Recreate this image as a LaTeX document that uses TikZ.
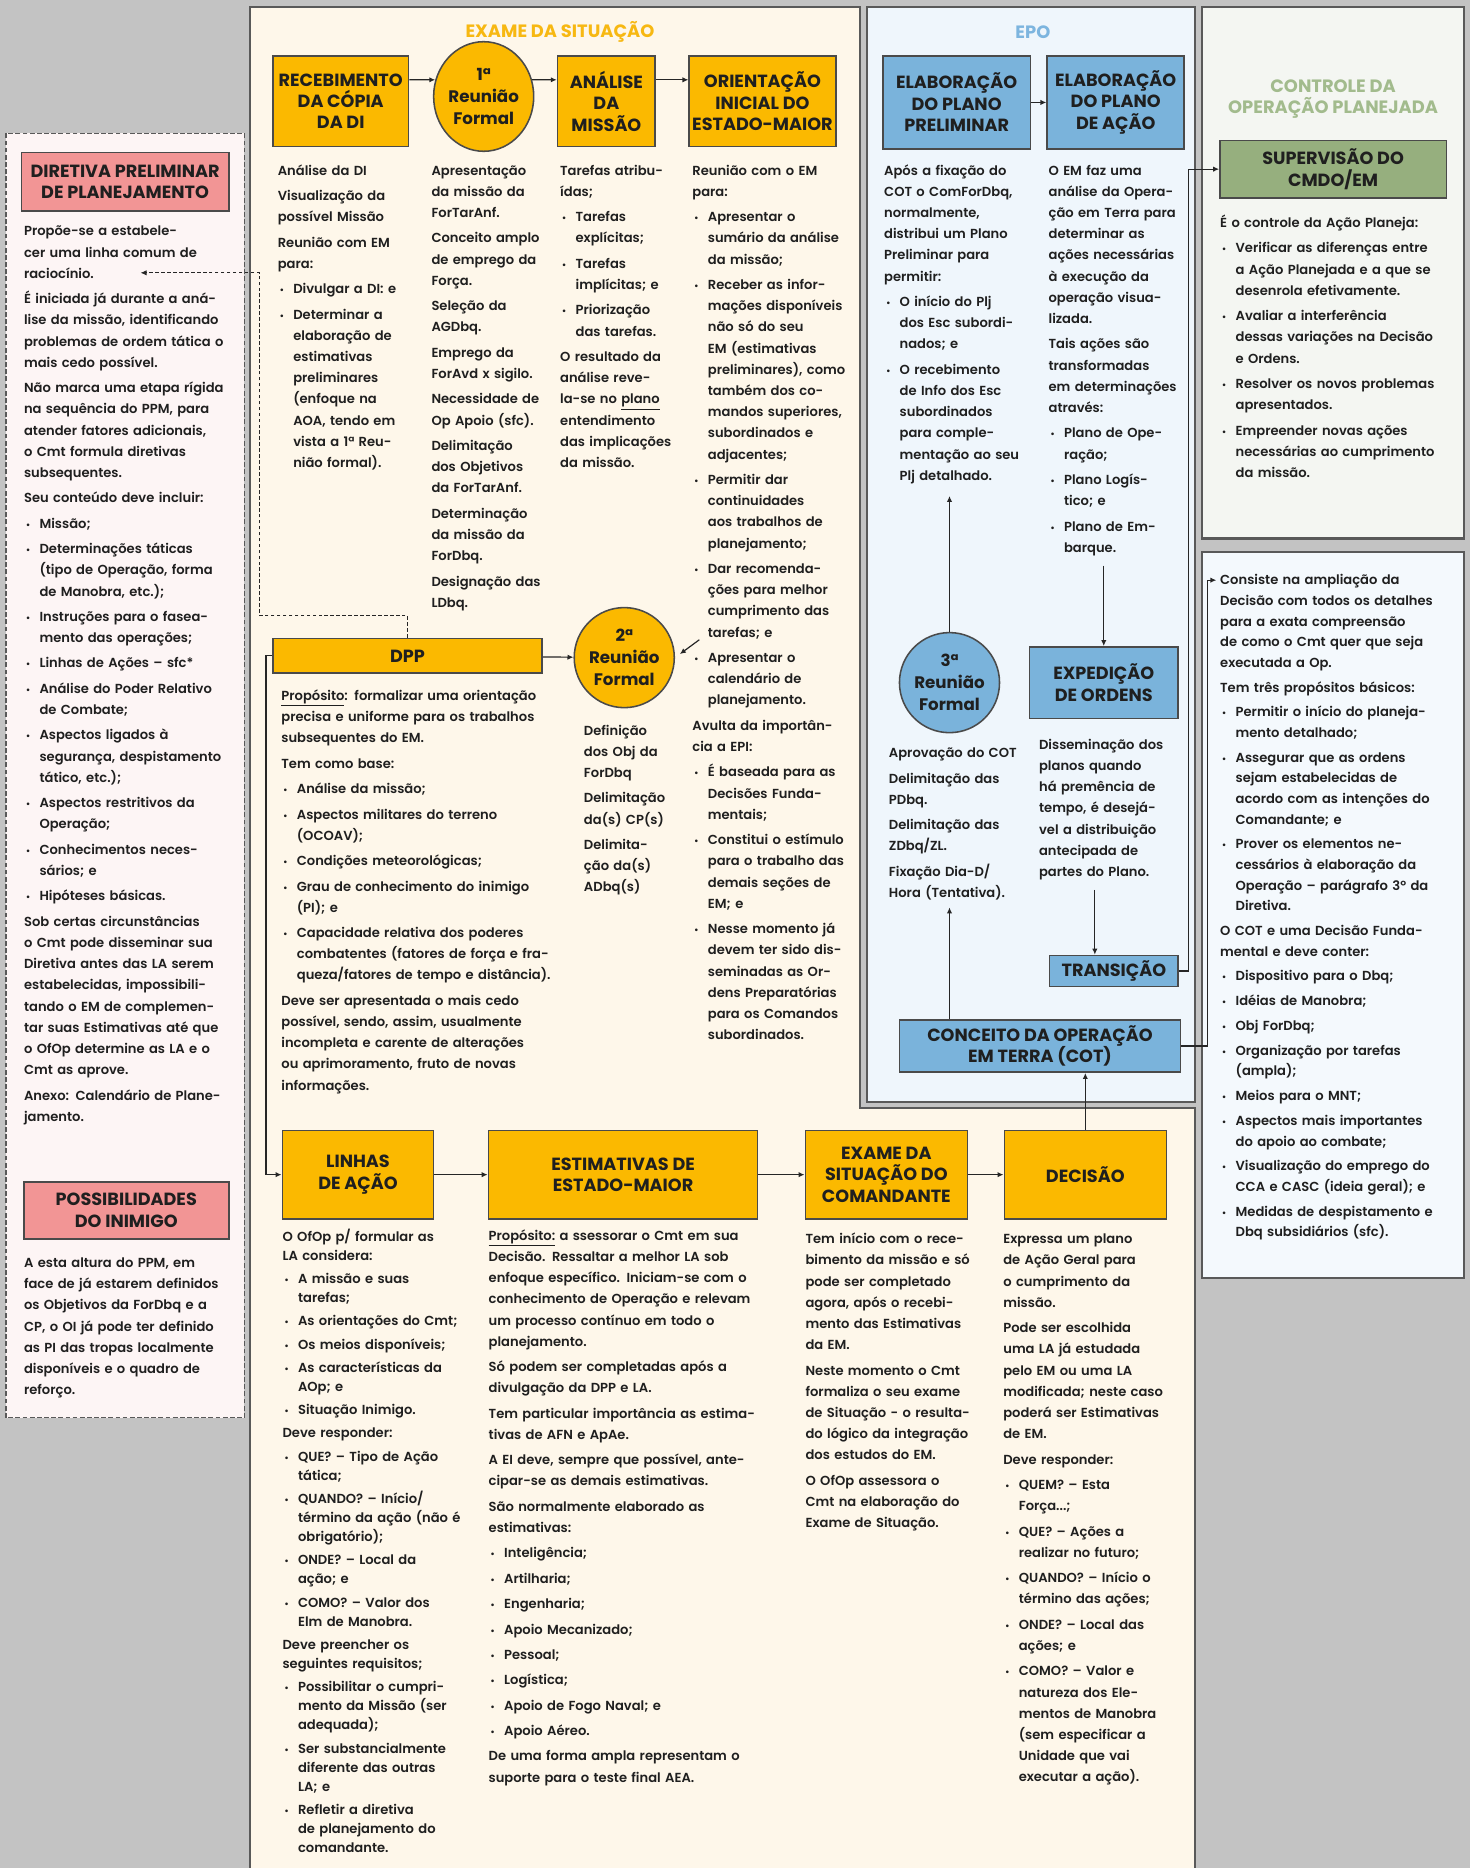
\documentclass[tikz,border=0pt]{standalone}
\usepackage{fontspec}
\setmainfont{Poppins}[UprightFont={* SemiBold},BoldFont={* Bold}]
\usetikzlibrary{arrows.meta,shapes.geometric}

\definecolor{amber}{HTML}{FBB900}
\definecolor{skyb}{HTML}{7AB3DB}
\definecolor{sage}{HTML}{96AF7E}
\definecolor{salmon}{HTML}{F29595}
\definecolor{cream}{HTML}{FEF7EA}
\definecolor{epobg}{HTML}{EFF6FC}
\definecolor{ctlbg}{HTML}{F4F6F2}
\definecolor{pinkbg}{HTML}{FDF5F5}
\definecolor{canvas}{HTML}{C3C3C3}
\definecolor{edge}{HTML}{4A4A4A}
\definecolor{ttlamber}{HTML}{F7B812}
\definecolor{ttlblue}{HTML}{7DB5DF}
\definecolor{ttlgreen}{HTML}{A2BB8D}

\newcommand\nl{\newline}
\newcommand\bul{\par\noindent\hangindent=13pt\hangafter=1\makebox[13pt][l]{\hspace{1.5pt}{\footnotesize\textbullet}}}
\newcommand\bodyf{\fontsize{11}{17.8}\selectfont}
\newcommand\boxf{\fontsize{14.8}{18}\selectfont\bfseries}

\begin{document}
\begin{tikzpicture}[x=1pt,y=-1pt,
    txt/.style={anchor=base west, inner sep=0pt, text width=#1, align=left, font=\bodyf, text=black!88,
      execute at begin node={\setlength{\parskip}{3.5pt}}},
    txt/.default=150pt,
    box/.style={draw=edge, line width=1.3pt, font=\boxf, align=center, inner sep=0pt, text=black!88},
    amb/.style={box, fill=amber},
    blu/.style={box, fill=skyb},
    rnd/.style={font=\fontsize{14}{18.5}\selectfont\bfseries},
    arr/.style={-{Latex[length=5pt,width=4.5pt]}, line width=1pt, draw=black!85},
    dasharr/.style={arr, dash pattern=on 3pt off 2pt, line width=0.8pt},
    panel/.style={draw=black!65, line width=1.8pt},
    ttl/.style={font=\fontsize{15}{18}\selectfont\bfseries, align=center}]

  \useasboundingbox (0,0) rectangle (1234,1568);

  % Draw panels
  \fill[canvas] (0,0) rectangle (1234,1568);
  \draw[draw=black!65, line width=1.2pt, dash pattern=on 4pt off 2pt, fill=pinkbg] (5,112) rectangle (205,1190);
  \draw[panel, fill=cream] (210,1580) -- (210,6) -- (722,6) -- (722,930) -- (1003,930) -- (1003,1580);
  \draw[panel, fill=epobg] (728,6) rectangle (1003,925);
  \draw[panel, fill=ctlbg] (1009,6) rectangle (1229,452);
  \draw[panel, fill=epobg!70!white] (1009,463) rectangle (1229,1073);

  % Titles
  \node[ttl, text=ttlamber] (hexame) at (470,27) {EXAME DA SITUAÇÃO};
  \node[ttl, text=ttlblue] (hepo) at (867,27) {EPO};
  \node[ttl, text=ttlgreen] (hctl) at (1119,83) {CONTROLE DA\\OPERAÇÃO PLANEJADA};

  % Exame da situacao (top row)
  \node[amb, minimum width=114pt, minimum height=76pt] (rec) at (286,85) {RECEBIMENTO\\DA CÓPIA\\DA DI};
  \node[amb, rnd, ellipse, minimum width=84pt, minimum height=92pt] (r1) at (406,81) {1ª\\Reunião\\Formal};
  \node[amb, minimum width=82pt, minimum height=76pt] (ana) at (509,85) {ANÁLISE\\DA\\MISSÃO};
  \node[amb, minimum width=123pt, minimum height=76pt] (ori) at (640,85) {ORIENTAÇÃO\\INICIAL DO\\ESTADO-MAIOR};

  \node[txt=125pt] (tc1) at (233,147) {Análise da DI\par Visualização da\nl possível Missão\par
    Reunião com EM\nl para:
    \bul Divulgar a DI: e
    \bul Determinar a\nl elaboração de\nl estimativas\nl preliminares\nl (enfoque na\nl AOA, tendo em\nl vista a 1ª Reu-\nl nião formal).\par};
  \node[txt=110pt] (tc2) at (362,147) {Apresentação\nl da missão da\nl ForTarAnf.\par
    Conceito amplo\nl de emprego da\nl Força.\par Seleção da\nl AGDbq.\par Emprego da\nl ForAvd x sigilo.\par
    Necessidade de\nl Op Apoio (sfc).\par Delimitação\nl dos Objetivos\nl da ForTarAnf.\par
    Determinação\nl da missão da\nl ForDbq.\par Designação das\nl LDbq.\par};
  \node[txt=110pt] (tc3) at (470,147) {Tarefas atribu-\nl ídas;
    \bul Tarefas\nl explícitas;
    \bul Tarefas\nl implícitas; e
    \bul Priorização\nl das tarefas.\par
    O resultado da\nl análise reve-\nl la-se no \underline{plano}\nl entendimento\nl das implicações\nl da missão.\par};
  \node[txt=145pt] (tc4) at (581,147) {Reunião com o EM\nl para:
    \bul Apresentar o\nl sumário da análise\nl da missão;
    \bul Receber as infor-\nl mações disponíveis\nl não só do seu\nl EM (estimativas\nl preliminares), como\nl também dos co-\nl mandos superiores,\nl subordinados e\nl adjacentes;
    \bul Permitir dar\nl continuidades\nl aos trabalhos de\nl planejamento;
    \bul Dar recomenda-\nl ções para melhor\nl cumprimento das\nl tarefas; e
    \bul Apresentar o\nl calendário de\nl planejamento.\par
    Avulta da importân-\nl cia a EPI:
    \bul É baseada para as\nl Decisões Funda-\nl mentais;
    \bul Constitui o estímulo\nl para o trabalho das\nl demais seções de\nl EM; e
    \bul Nesse momento já\nl devem ter sido dis-\nl seminadas as Or-\nl dens Preparatórias\nl para os Comandos\nl subordinados.\par};

  % DPP and 2a reuniao
  \node[amb, minimum width=226pt, minimum height=29pt] (dpp) at (342,550.5) {DPP};
  \node[amb, rnd, circle, minimum size=84pt] (r2) at (524,552) {2ª\\Reunião\\Formal};
  \node[txt=250pt] (tdpp) at (236,588) {\underline{Propósito}: formalizar uma orientação\nl precisa e uniforme para os trabalhos\nl subsequentes do EM.\par
    Tem como base:
    \bul Análise da missão;
    \bul Aspectos militares do terreno\nl (OCOAV);
    \bul Condições meteorológicas;
    \bul Grau de conhecimento do inimigo\nl (PI); e
    \bul Capacidade relativa dos poderes\nl combatentes (fatores de força e fra-\nl queza/fatores de tempo e distância).\par
    Deve ser apresentada o mais cedo\nl possível, sendo, assim, usualmente\nl incompleta e carente de alterações\nl ou aprimoramento, fruto de novas\nl informações.\par};
  \node[txt=90pt] (tr2) at (490,617) {Definição\nl dos Obj da\nl ForDbq\par Delimitação\nl da(s) CP(s)\par Delimita-\nl ção da(s)\nl ADbq(s)\par};

  % Diretiva preliminar (left)
  \node[box, fill=salmon, minimum width=174pt, minimum height=49pt] (dir) at (105,152.5) {DIRETIVA PRELIMINAR\\DE PLANEJAMENTO};
  \node[txt=185pt] (tdir) at (20,198) {Propõe-se a estabele-\nl cer uma linha comum de\nl raciocínio.\par
    É iniciada já durante a aná-\nl lise da missão, identificando\nl problemas de ordem tática o\nl mais cedo possível.\par
    Não marca uma etapa rígida\nl na sequência do PPM, para\nl atender fatores adicionais,\nl o Cmt formula diretivas\nl subsequentes.\par
    Seu conteúdo deve incluir:
    \bul Missão;
    \bul Determinações táticas\nl (tipo de Operação, forma\nl de Manobra, etc.);
    \bul Instruções para o fasea-\nl mento das operações;
    \bul Linhas de Ações – sfc*
    \bul Análise do Poder Relativo\nl de Combate;
    \bul Aspectos ligados à\nl segurança, despistamento\nl tático, etc.);
    \bul Aspectos restritivos da\nl Operação;
    \bul Conhecimentos neces-\nl sários; e
    \bul Hipóteses básicas.\par
    Sob certas circunstâncias\nl o Cmt pode disseminar sua\nl Diretiva antes das LA serem\nl estabelecidas, impossibili-\nl tando o EM de complemen-\nl tar suas Estimativas até que\nl o OfOp determine as LA e o\nl Cmt as aprove.\par
    Anexo: Calendário de Plane-\nl jamento.\par};
  \node[box, fill=salmon, minimum width=172pt, minimum height=48pt] (pin) at (106,1016) {POSSIBILIDADES\\DO INIMIGO};
  \node[txt=185pt] (tpin) at (20,1064) {A esta altura do PPM, em\nl face de já estarem definidos\nl os Objetivos da ForDbq e a\nl CP, o OI já pode ter definido\nl as PI das tropas localmente\nl disponíveis e o quadro de\nl reforço.\par};

  % Bottom row
  \node[amb, minimum width=127pt, minimum height=74pt] (la) at (300.5,986) {LINHAS\\DE AÇÃO};
  \node[amb, minimum width=226pt, minimum height=74pt] (est) at (523,986) {ESTIMATIVAS DE\\ESTADO-MAIOR};
  \node[amb, minimum width=136pt, minimum height=74pt] (exs) at (744,986) {EXAME DA\\SITUAÇÃO DO\\COMANDANTE};
  \node[amb, minimum width=136pt, minimum height=74pt] (dec) at (911,986) {DECISÃO};

  \node[txt=150pt, font=\fontsize{11}{16}\selectfont] (tla) at (237,1042) {O OfOp p/ formular as\nl LA considera:
    \bul A missão e suas\nl tarefas;
    \bul As orientações do Cmt;
    \bul Os meios disponíveis;
    \bul As características da\nl AOp; e
    \bul Situação Inimigo.\par
    Deve responder:
    \bul QUE? – Tipo de Ação\nl tática;
    \bul QUANDO? – Início/\nl término da ação (não é\nl obrigatório);
    \bul ONDE? – Local da\nl ação; e
    \bul COMO? – Valor dos\nl Elm de Manobra.\par
    Deve preencher os\nl seguintes requisitos;
    \bul Possibilitar o cumpri-\nl mento da Missão (ser\nl adequada);
    \bul Ser substancialmente\nl diferente das outras\nl LA; e
    \bul Refletir a diretiva\nl de planejamento do\nl comandante.\par};
  \node[txt=250pt] (test) at (410,1041) {\underline{Propósito:} a ssessorar o Cmt em sua\nl Decisão. Ressaltar a melhor LA sob\nl enfoque específico. Iniciam-se com o\nl conhecimento de Operação e relevam\nl um processo contínuo em todo o\nl planejamento.\par
    Só podem ser completadas após a\nl divulgação da DPP e LA.\par
    Tem particular importância as estima-\nl tivas de AFN e ApAe.\par
    A EI deve, sempre que possível, ante-\nl cipar-se as demais estimativas.\par
    São normalmente elaborado as\nl estimativas:
    \bul Inteligência;
    \bul Artilharia;
    \bul Engenharia;
    \bul Apoio Mecanizado;
    \bul Pessoal;
    \bul Logística;
    \bul Apoio de Fogo Naval; e
    \bul Apoio Aéreo.\par
    De uma forma ampla representam o\nl suporte para o teste final AEA.\par};
  \node[txt=155pt] (texs) at (676,1044) {Tem início com o rece-\nl bimento da missão e só\nl pode ser completado\nl agora, após o recebi-\nl mento das Estimativas\nl da EM.\par
    Neste momento o Cmt\nl formaliza o seu exame\nl de Situação - o resulta-\nl do lógico da integração\nl dos estudos do EM.\par
    O OfOp assessora o\nl Cmt na elaboração do\nl Exame de Situação.\par};
  \node[txt=155pt] (tdec) at (842,1044) {Expressa um plano\nl de Ação Geral para\nl o cumprimento da\nl missão.\par
    Pode ser escolhida\nl uma LA já estudada\nl pelo EM ou uma LA\nl modificada; neste caso\nl poderá ser Estimativas\nl de EM.\par
    Deve responder:
    \bul QUEM? – Esta\nl Força...;
    \bul QUE? – Ações a\nl realizar no futuro;
    \bul QUANDO? – Início o\nl término das ações;
    \bul ONDE? – Local das\nl ações; e
    \bul COMO? – Valor e\nl natureza dos Ele-\nl mentos de Manobra\nl (sem especificar a\nl Unidade que vai\nl executar a ação).\par};

  % EPO
  \node[blu, minimum width=124pt, minimum height=78pt] (dpl) at (803,86) {ELABORAÇÃO\\DO PLANO\\PRELIMINAR};
  \node[blu, minimum width=115pt, minimum height=78pt] (dpa) at (936.5,86) {ELABORAÇÃO\\DO PLANO\\DE AÇÃO};
  \node[txt=135pt] (tpl) at (742,147) {Após a fixação do\nl COT o ComForDbq,\nl normalmente,\nl distribui um Plano\nl Preliminar para\nl permitir:
    \bul O início do Plj\nl dos Esc subordi-\nl nados; e
    \bul O recebimento\nl de Info dos Esc\nl subordinados\nl para comple-\nl mentação ao seu\nl Plj detalhado.\par};
  \node[txt=130pt] (tpa) at (880,147) {O EM faz uma\nl análise da Opera-\nl ção em Terra para\nl determinar as\nl ações necessárias\nl à execução da\nl operação visua-\nl lizada.\par
    Tais ações são\nl transformadas\nl em determinações\nl através:
    \bul Plano de Ope-\nl ração;
    \bul Plano Logís-\nl tico; e
    \bul Plano de Em-\nl barque.\par};
  \node[blu, rnd, circle, minimum size=84pt] (r3) at (797,573) {3ª\\Reunião\\Formal};
  \node[blu, minimum width=125pt, minimum height=60pt] (exp) at (926.5,573) {EXPEDIÇÃO\\DE ORDENS};
  \node[txt=125pt] (tr3) at (746,636) {Aprovação do COT\par Delimitação das\nl PDbq.\par Delimitação das\nl ZDbq/ZL.\par Fixação Dia-D/\nl Hora (Tentativa).\par};
  \node[txt=125pt] (texp) at (872,629) {Disseminação dos\nl planos quando\nl há premência de\nl tempo, é desejá-\nl vel a distribuição\nl antecipada de\nl partes do Plano.\par};
  \node[blu, minimum width=108pt, minimum height=26pt] (tra) at (935,815) {TRANSIÇÃO};
  \node[blu, minimum width=236pt, minimum height=44pt] (cot) at (873,878) {CONCEITO DA OPERAÇÃO\\EM TERRA (COT)};

  % Controle da operacao planejada
  \node[box, fill=sage, minimum width=190pt, minimum height=48pt] (sup) at (1119,142) {SUPERVISÃO DO\\CMDO/EM};
  \node[txt=205pt] (tctl) at (1024,191) {É o controle da Ação Planeja:
    \bul Verificar as diferenças entre\nl a Ação Planejada e a que se\nl desenrola efetivamente.
    \bul Avaliar a interferência\nl dessas variações na Decisão\nl e Ordens.
    \bul Resolver os novos problemas\nl apresentados.
    \bul Empreender novas ações\nl necessárias ao cumprimento\nl da missão.\par};
  \node[txt=205pt, font=\fontsize{11}{17.3}\selectfont] (tcot) at (1024,491) {Consiste na ampliação da\nl Decisão com todos os detalhes\nl para a exata compreensão\nl de como o Cmt quer que seja\nl executada a Op.\par
    Tem três propósitos básicos:
    \bul Permitir o início do planeja-\nl mento detalhado;
    \bul Assegurar que as ordens\nl sejam estabelecidas de\nl acordo com as intenções do\nl Comandante; e
    \bul Prover os elementos ne-\nl cessários à elaboração da\nl Operação – parágrafo 3º da\nl Diretiva.\par
    O COT e uma Decisão Funda-\nl mental e deve conter:
    \bul Dispositivo para o Dbq;
    \bul Idéias de Manobra;
    \bul Obj ForDbq;
    \bul Organização por tarefas\nl (ampla);
    \bul Meios para o MNT;
    \bul Aspectos mais importantes\nl do apoio ao combate;
    \bul Visualização do emprego do\nl CCA e CASC (ideia geral); e
    \bul Medidas de despistamento e\nl Dbq subsidiários (sfc).\par};

  % Draw connectors
  \draw[arr] ([yshift=18pt]rec.east) -- (r1.161);
  \draw[arr] (r1.19) -- ([yshift=18pt]ana.west);
  \draw[arr] ([yshift=18pt]ana.east) -- ([yshift=18pt]ori.west);
  \draw[arr] (dpl) -- (dpa);

  \coordinate (bend) at (218,517);
  \coordinate (raz) at (118,229);
  \draw[dasharr] (dpp.north) |- (bend) |- (raz);
  \draw[arr] (dpp) -- (r2);
  \coordinate (pin4) at (587,537);
  \draw[arr, shorten >=5pt] (pin4) -- (r2.0);
  \draw[arr] (dpp.west) -- ++(-5,0) |- (la.west);

  \draw[arr] (la) -- (est);
  \draw[arr] (est) -- (exs);
  \draw[arr] (exs) -- (dec);
  \draw[arr] (dec.north) -- (dec.north |- cot.south);

  \draw[arr, shorten >=10pt] (r3.north) -- (r3.north |- tpl.south);
  \draw[arr, shorten <=8pt] (exp.north |- tpa.south) -- (exp.north);
  \draw[arr, shorten <=8pt] ([xshift=-16pt]tra.north |- texp.south) -- ([xshift=-16pt]tra.north);
  \draw[arr, shorten >=6pt] (r3 |- cot.north) -- (r3 |- tr3.south);
  \draw[arr] (tra.east) -- ++(8,0) |- (sup.west);
  \coordinate (cons) at (1021,487);
  \draw[arr] (cot.east) -- ++(22,0) |- (cons);
\end{tikzpicture}
\end{document}
